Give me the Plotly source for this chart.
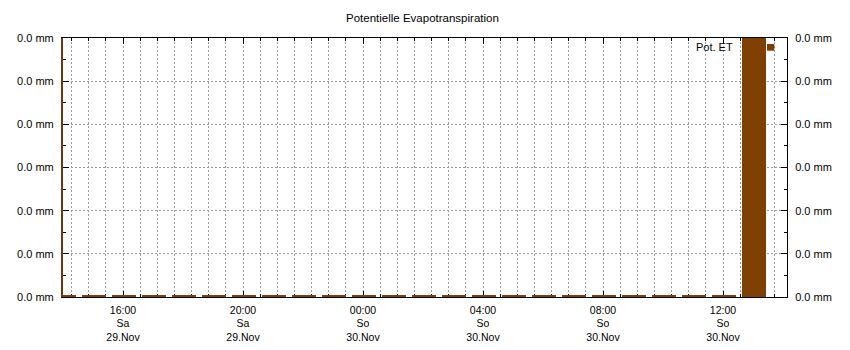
import plotly.graph_objects as go

# ---- data ----
times = [
    "2025-11-29 14:00", "2025-11-29 15:00", "2025-11-29 16:00", "2025-11-29 17:00",
    "2025-11-29 18:00", "2025-11-29 19:00", "2025-11-29 20:00", "2025-11-29 21:00",
    "2025-11-29 22:00", "2025-11-29 23:00", "2025-11-30 00:00", "2025-11-30 01:00",
    "2025-11-30 02:00", "2025-11-30 03:00", "2025-11-30 04:00", "2025-11-30 05:00",
    "2025-11-30 06:00", "2025-11-30 07:00", "2025-11-30 08:00", "2025-11-30 09:00",
    "2025-11-30 10:00", "2025-11-30 11:00", "2025-11-30 12:00", "2025-11-30 13:00",
]
pot_et_mm = [
    0.0002, 0.0002, 0.0002, 0.0002, 0.0002, 0.0002, 0.0002, 0.0002,
    0.0002, 0.0002, 0.0002, 0.0002, 0.0002, 0.0002, 0.0002, 0.0002,
    0.0002, 0.0002, 0.0002, 0.0002, 0.0002, 0.0002, 0.0002, 0.0300,
]
tick_times = [
    "2025-11-29 16:00", "2025-11-29 20:00", "2025-11-30 00:00",
    "2025-11-30 04:00", "2025-11-30 08:00", "2025-11-30 12:00",
]
tick_labels = [
    "16:00<br>Sa<br>29.Nov", "20:00<br>Sa<br>29.Nov", "00:00<br>So<br>30.Nov",
    "04:00<br>So<br>30.Nov", "08:00<br>So<br>30.Nov", "12:00<br>So<br>30.Nov",
]
x_range = ["2025-11-29 14:00", "2025-11-30 14:08"]
y_range = [0, 0.03]
series_name = "Pot. ET"
title_text = "Potentielle Evapotranspiration"

BROWN = "#7f3f00"
FONT = "Liberation Sans"
GRID = "#9a9a9a"
DASH = "2px,2px"

fig = go.Figure()
fig.add_trace(go.Bar(
    x=times, y=pot_et_mm, name=series_name,
    width=48 * 60 * 1000,
    offset=-22 * 60 * 1000,
    marker=dict(color=BROWN, line=dict(width=0)),
    showlegend=False,
))
# invisible trace for right axis
fig.add_trace(go.Scatter(x=[times[0]], y=[0], yaxis="y2", mode="markers",
                         marker=dict(opacity=0), showlegend=False, hoverinfo="skip"))

minor_step = 4 * 3600 * 1000 / 7

fig.update_layout(
    width=850, height=350,
    margin=dict(l=63, r=63, t=38, b=53, autoexpand=False),
    paper_bgcolor="white", plot_bgcolor="white",
    font=dict(family=FONT, size=11, color="#000"),
    title=dict(text=title_text, x=0.497, xanchor="center", y=1 - 18 / 350,
               yanchor="middle", font=dict(family=FONT, size=11.5, color="#000")),
    bargap=0,
    xaxis=dict(
        type="date", range=x_range, automargin=False,
        tickmode="array", tickvals=tick_times, ticktext=tick_labels,
        ticks="inside", ticklen=6, tickcolor="#000", tickwidth=1,
        showline=True, linecolor="#000", linewidth=1, mirror="ticks",
        showgrid=True, gridcolor=GRID, griddash=DASH, gridwidth=1,
        minor=dict(tick0=tick_times[0], dtick=minor_step, ticks="inside",
                   ticklen=3, tickcolor="#000", showgrid=True,
                   gridcolor=GRID, griddash=DASH, gridwidth=1),
        zeroline=False, tickfont=dict(size=10.5), layer="below traces",
        ticklabelstandoff=3,
    ),
    yaxis=dict(
        range=y_range, automargin=False, tickmode="linear", tick0=0, dtick=0.005,
        tickformat=".1f", ticksuffix=" mm",
        ticks="inside", ticklen=6, tickcolor="#000",
        showline=True, linecolor="#6a3a0a", linewidth=2,
        showgrid=True, gridcolor=GRID, griddash=DASH, gridwidth=1,
        minor=dict(dtick=0.0025, ticks="inside", ticklen=3, tickcolor="#000", showgrid=False),
        zeroline=False, ticklabelstandoff=5,
    ),
    yaxis2=dict(
        range=y_range, automargin=False, overlaying="y", side="right", matches="y",
        tickmode="linear", tick0=0, dtick=0.005,
        tickformat=".1f", ticksuffix=" mm",
        ticks="inside", ticklen=6, tickcolor="#000",
        showline=True, linecolor="#000", linewidth=1,
        showgrid=False,
        minor=dict(dtick=0.0025, ticks="inside", ticklen=3, tickcolor="#000", showgrid=False),
        zeroline=False, ticklabelstandoff=5,
    ),
    annotations=[dict(
        text=series_name, xref="paper", yref="paper",
        x=(734.3 - 62.7) / 724, y=(297 - 46.7) / 259,
        xanchor="right", yanchor="middle", showarrow=False,
        font=dict(family=FONT, size=11, color="#000"),
    )],
    shapes=[dict(
        type="rect", xref="paper", yref="paper",
        x0=(766.7 - 62.7) / 724, x1=(774 - 62.7) / 724,
        y0=(297 - 50.7) / 259, y1=(297 - 44) / 259,
        fillcolor=BROWN, line=dict(width=0), layer="above",
    )],
)

fig.write_html("out.html")
